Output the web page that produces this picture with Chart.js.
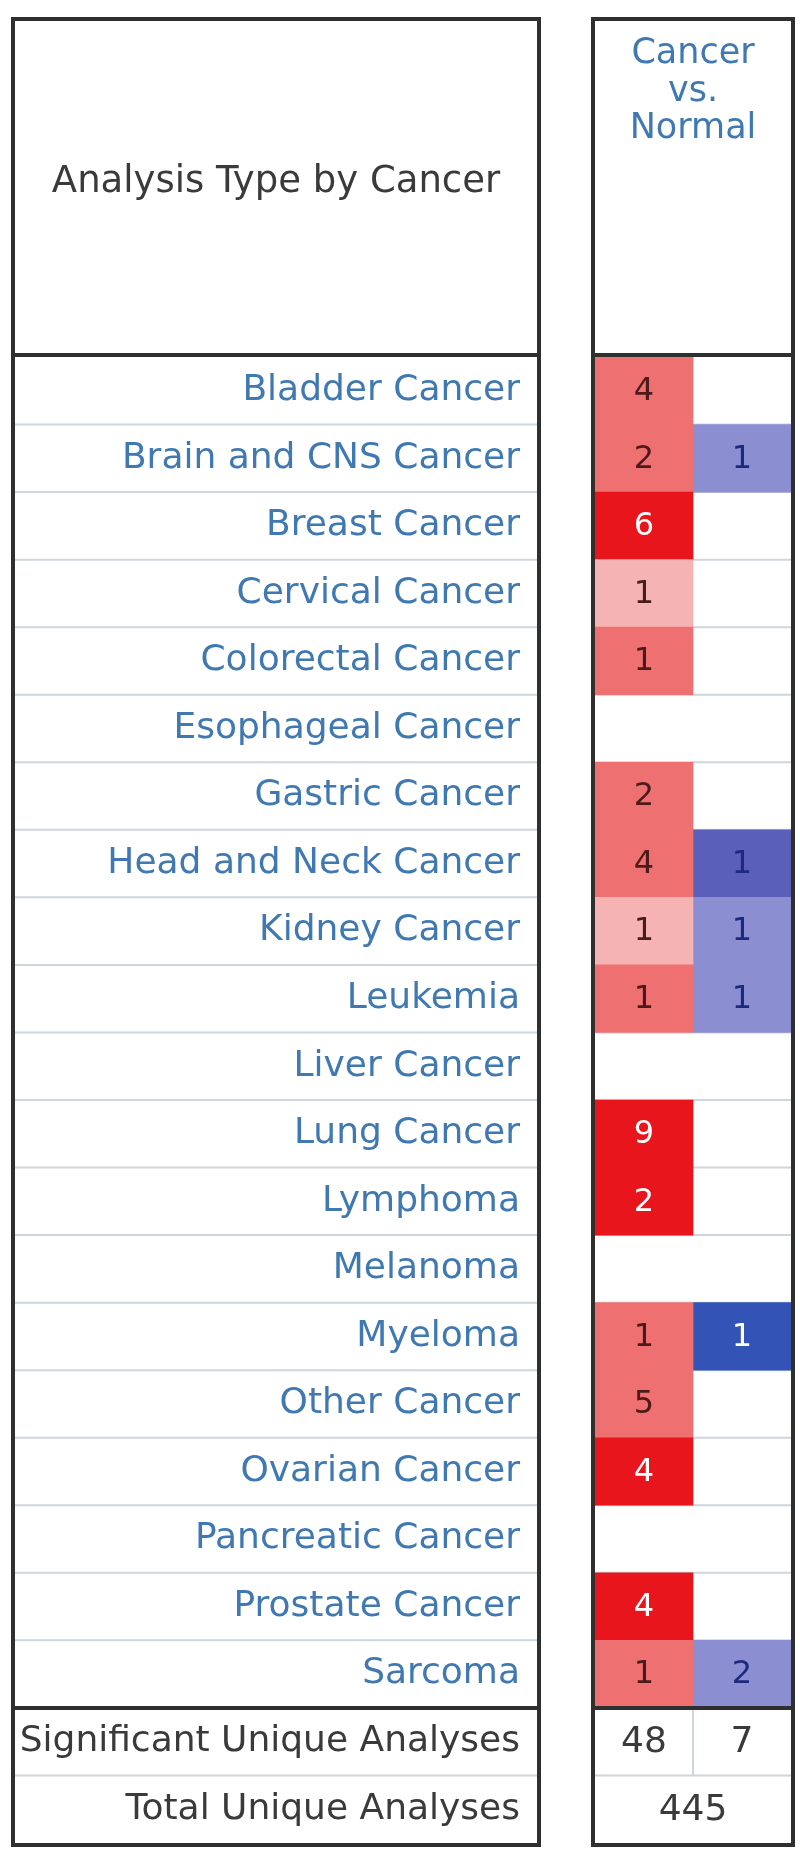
<!DOCTYPE html>
<html>
<head>
<meta charset="utf-8">
<script src="https://cdn.jsdelivr.net/npm/chart.js@4"></script>
<style>
  html, body { margin: 0; padding: 0; background: #fff; }
  #wrap { width: 800px; height: 1854px; position: relative; }
</style>
</head>
<body>
<div id="wrap"><canvas id="chartOncomine"></canvas></div>
<script>
const cancerTypes = [
  'Bladder Cancer', 'Brain and CNS Cancer', 'Breast Cancer', 'Cervical Cancer',
  'Colorectal Cancer', 'Esophageal Cancer', 'Gastric Cancer', 'Head and Neck Cancer',
  'Kidney Cancer', 'Leukemia', 'Liver Cancer', 'Lung Cancer', 'Lymphoma', 'Melanoma',
  'Myeloma', 'Other Cancer', 'Ovarian Cancer', 'Pancreatic Cancer', 'Prostate Cancer', 'Sarcoma'
];
const footerLabels = ['Significant Unique Analyses', 'Total Unique Analyses'];

// over-expressed (red) and under-expressed (blue) analysis counts
const overCounts  = [4, 2, 6, 1, 1, null, 2, 4, 1, 1, null, 9, 2, null, 1, 5, 4, null, 4, 1];
const overShade   = [2, 2, 3, 1, 2, 0,    2, 2, 1, 2, 0,    3, 3, 0,    2, 2, 3, 0,    3, 2];
const underCounts = [null, 1, null, null, null, null, null, 1, 1, 1, null, null, null, null, 1, null, null, null, null, 2];
const underShade  = [0,    1, 0,    0,    0,    0,    0,    2, 1, 1, 0,    0,    0,    0,    3, 0,    0,    0,    0,    1];

const significantCounts = [48, 7];
const totalAnalyses = 445;
const columnTitle = ['Cancer', 'vs.', 'Normal'];
const tableTitle = 'Analysis Type by Cancer';

// --- styling ---
const redShades  = [null, '#f6b3b3', '#ef7070', '#e8161c'];
const redText    = [null, '#4b1a1a', '#4b1a1a', '#ffffff'];
const blueShades = [null, '#8b8ed1', '#5a5fb9', '#3354b6'];
const blueText   = [null, '#1c2a7e', '#1c2a7e', '#ffffff'];
const labelBlue = '#4079b2';
const darkText = '#3a3a3a';
const FONT = '"DejaVu Sans", sans-serif';

const allLabels = cancerTypes.concat(footerLabels);
const BOX_L = [13, 539];
const BOX_R = [593, 793];
const BOX_TOP = 19, BOX_BOTTOM = 1845, HEADER_LINE = 355;

const overData = overCounts.map(v => v == null ? null : [0, 1]);
const underData = underCounts.map(v => v == null ? null : [1, 2]);

const tablePlugin = {
  id: 'tableFrame',
  beforeDatasetsDraw(chart) {
    const ctx = chart.ctx;
    const y = chart.scales.y;
    ctx.save();
    // thin row separators
    ctx.strokeStyle = '#cdd5dd';
    ctx.lineWidth = 2;
    for (let i = 0; i < allLabels.length - 1; i++) {
      if (i === cancerTypes.length - 1) continue;
      const yy = (y.getPixelForTick(i) + y.getPixelForTick(i + 1)) / 2;
      ctx.beginPath();
      ctx.moveTo(BOX_L[0], yy); ctx.lineTo(BOX_L[1], yy);
      ctx.moveTo(BOX_R[0], yy); ctx.lineTo(BOX_R[1], yy);
      ctx.stroke();
    }
    // separator between the two counts in the footer
    const x = chart.scales.x;
    const n = cancerTypes.length;
    const yTop = (y.getPixelForTick(n - 1) + y.getPixelForTick(n)) / 2;
    const yBot = (y.getPixelForTick(n) + y.getPixelForTick(n + 1)) / 2;
    ctx.beginPath();
    ctx.moveTo(x.getPixelForValue(1), yTop); ctx.lineTo(x.getPixelForValue(1), yBot);
    ctx.stroke();
    ctx.restore();
  },
  afterDatasetsDraw(chart) {
    const ctx = chart.ctx;
    const x = chart.scales.x, y = chart.scales.y;
    const n = cancerTypes.length;
    ctx.save();
    ctx.textAlign = 'center';
    ctx.textBaseline = 'middle';

    // counts inside the coloured cells
    ctx.font = '32px ' + FONT;
    chart.getDatasetMeta(0).data.forEach((bar, i) => {
      if (overCounts[i] == null) return;
      ctx.fillStyle = redText[overShade[i]];
      ctx.fillText(String(overCounts[i]), (bar.x + bar.base) / 2, bar.y + 1);
    });
    chart.getDatasetMeta(1).data.forEach((bar, i) => {
      if (underCounts[i] == null) return;
      ctx.fillStyle = blueText[underShade[i]];
      ctx.fillText(String(underCounts[i]), (bar.x + bar.base) / 2, bar.y + 1);
    });

    // footer numbers
    ctx.font = '36px ' + FONT;
    ctx.fillStyle = darkText;
    ctx.fillText(String(significantCounts[0]), x.getPixelForValue(0.5), y.getPixelForTick(n) + 1);
    ctx.fillText(String(significantCounts[1]), x.getPixelForValue(1.5), y.getPixelForTick(n) + 1);
    ctx.fillText(String(totalAnalyses), x.getPixelForValue(1), y.getPixelForTick(n + 1) + 1);

    // header texts
    ctx.fillStyle = darkText;
    ctx.font = '37px ' + FONT;
    ctx.fillText(tableTitle, (BOX_L[0] + BOX_L[1]) / 2, 182);
    ctx.fillStyle = labelBlue;
    ctx.font = '35px ' + FONT;
    ctx.textBaseline = 'alphabetic';
    const cx = (BOX_R[0] + BOX_R[1]) / 2;
    [63, 101, 138].forEach((by, i) => ctx.fillText(columnTitle[i], cx, by));

    // heavy frame lines
    ctx.strokeStyle = '#2f2f2f';
    ctx.lineWidth = 4;
    [BOX_L, BOX_R].forEach(b => {
      ctx.strokeRect(b[0], BOX_TOP, b[1] - b[0], BOX_BOTTOM - BOX_TOP);
      ctx.beginPath();
      ctx.moveTo(b[0], HEADER_LINE); ctx.lineTo(b[1], HEADER_LINE);
      const yy = (y.getPixelForTick(n - 1) + y.getPixelForTick(n)) / 2;
      ctx.moveTo(b[0], yy); ctx.lineTo(b[1], yy);
      ctx.stroke();
    });
    ctx.restore();
  }
};

new Chart(document.getElementById('chartOncomine'), {
  type: 'bar',
  data: {
    labels: allLabels,
    datasets: [
      {
        label: 'Over-expression',
        data: overData,
        backgroundColor: overShade.map(s => redShades[s] || 'rgba(0,0,0,0)'),
        grouped: false
      },
      {
        label: 'Under-expression',
        data: underData,
        backgroundColor: underShade.map(s => blueShades[s] || 'rgba(0,0,0,0)'),
        grouped: false
      }
    ]
  },
  options: {
    indexAxis: 'y',
    responsive: true,
    maintainAspectRatio: false,
    animation: false,
    events: [],
    barPercentage: 1,
    categoryPercentage: 1,
    borderWidth: 0,
    layout: { padding: { top: 357, bottom: 11, left: 13, right: 9 } },
    plugins: { legend: { display: false }, tooltip: { enabled: false } },
    scales: {
      x: { type: 'linear', min: 0, max: 2, display: false },
      y: {
        type: 'category',
        grid: { display: false, drawTicks: false, tickLength: 0 },
        border: { display: false },
        ticks: {
          padding: 75,
          autoSkip: false,
          color: ctx => ctx.index < cancerTypes.length ? labelBlue : darkText,
          font: { family: FONT, size: 36 }
        },
        afterFit: scale => {
          scale.width = 582;
          scale.paddingTop = 0;
          scale.paddingBottom = 0;
        }
      }
    }
  },
  plugins: [tablePlugin]
});
</script>
</body>
</html>
